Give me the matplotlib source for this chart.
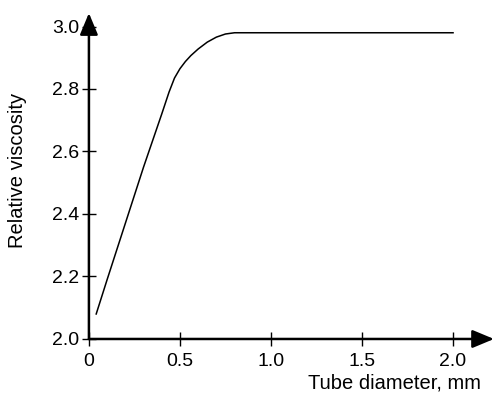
import matplotlib
matplotlib.use("Agg")
import matplotlib.pyplot as plt

plt.rcParams['font.family'] = ['Liberation Sans', 'DejaVu Sans']

diameter = [0.04, 0.1, 0.2, 0.3, 0.4, 0.44, 0.47, 0.5, 0.53, 0.56, 0.6, 0.65, 0.7, 0.75, 0.8, 0.85, 2.0]
viscosity = [2.08, 2.19, 2.37, 2.55, 2.72, 2.79, 2.835, 2.865, 2.888, 2.907, 2.928, 2.950, 2.966, 2.976, 2.980, 2.980, 2.980]
xticks = [0, 0.5, 1.0, 1.5, 2.0]
xticklabels = ["0", "0.5", "1.0", "1.5", "2.0"]
yticks = [2.0, 2.2, 2.4, 2.6, 2.8, 3.0]
yticklabels = ["2.0", "2.2", "2.4", "2.6", "2.8", "3.0"]

fig = plt.figure(figsize=(4.94, 3.96), dpi=100)
ax = fig.add_axes([0.180, 0.144, 0.820, 0.823])
ax.plot(diameter, viscosity, color='black', lw=1.1)
ax.set_xlim(0, 2.225)
ax.set_ylim(2.0, 3.043)
for s in ax.spines.values():
    s.set_visible(False)
ax.set_xticks(xticks)
ax.set_xticklabels(xticklabels)
ax.set_yticks(yticks)
ax.set_yticklabels(yticklabels)
ax.tick_params(direction='inout', length=10, width=1, labelsize=14)
ax.tick_params(axis='y', pad=2)
ax.tick_params(axis='x', pad=5)
ax.annotate('', xy=(1, 0), xytext=(0, 0), xycoords='axes fraction',
            arrowprops=dict(arrowstyle='-|>,head_length=0.6,head_width=0.25', lw=1.8, color='black',
                            mutation_scale=22, shrinkA=0, shrinkB=0), annotation_clip=False)
ax.annotate('', xy=(0, 1), xytext=(0, 0), xycoords='axes fraction',
            arrowprops=dict(arrowstyle='-|>,head_length=0.6,head_width=0.25', lw=1.8, color='black',
                            mutation_scale=22, shrinkA=0, shrinkB=0), annotation_clip=False)
fig.text(481/494, 1 - 383/396, "Tube diameter, mm", ha='right', va='center', fontsize=14.5)
fig.text(18/494, 1 - 170/396, "Relative viscosity", ha='center', va='center', rotation=90, fontsize=14.5)
fig.savefig("out.png", dpi=100)
